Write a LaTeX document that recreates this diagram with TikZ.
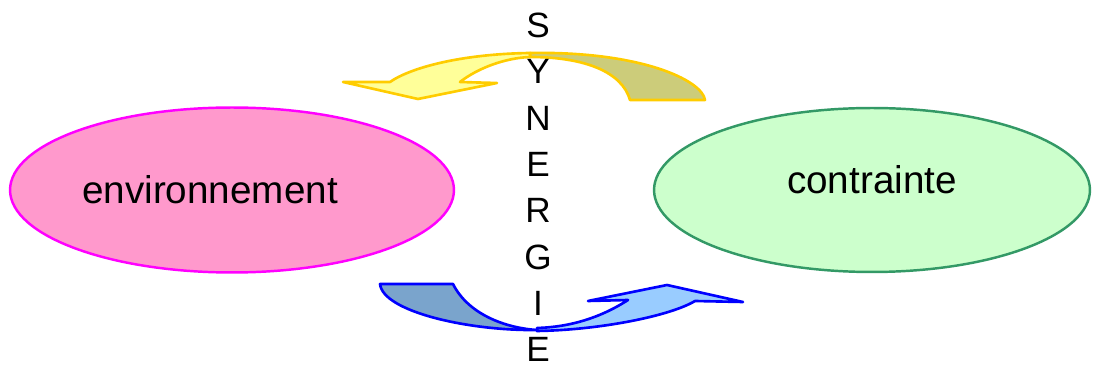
\documentclass[tikz,border=0pt]{standalone}
\usepackage{fontspec}
\setmainfont{Liberation Sans}
\usepackage{xcolor}
\usepackage{tikz}
\usetikzlibrary{shapes.geometric}

\definecolor{pinkfill}{HTML}{FF99CC}
\definecolor{pinkline}{HTML}{FF00FF}
\definecolor{greenfill}{HTML}{CCFFCC}
\definecolor{greenline}{HTML}{339966}
\definecolor{yellowlight}{HTML}{FFFF99}
\definecolor{yellowdark}{HTML}{CCCC7A}
\definecolor{yellowline}{HTML}{FFCC00}
\definecolor{bluedark}{HTML}{7AA4CC}
\definecolor{bluelight}{HTML}{99CCFF}
\definecolor{blueline}{HTML}{0000FF}

\begin{document}
\begin{tikzpicture}[x=0.02cm,y=-0.02cm,every node/.style={font=\fontsize{22}{26}\selectfont}]
  \useasboundingbox (0,0) rectangle (1095,367);
  % ellipses
  \node[ellipse,draw=pinkline,line width=1.4pt,fill=pinkfill,
        inner sep=0pt,minimum width=8.88cm,minimum height=3.3cm] (env) at (232,190) {};
  \node (envtext) at (210,190) {environnement};
  \node[ellipse,draw=greenline,line width=1.4pt,fill=greenfill,
        inner sep=0pt,minimum width=8.72cm,minimum height=3.28cm] (con) at (872,190) {};
  \node (context) at (872,180) {contrainte};
  % top arrow (yellow)
  \draw[yellowline,line width=1.5pt,fill=yellowdark,line join=round]
    (530,53) .. controls (640,51) and (702,80) .. (705,100) -- (630,100)
    .. controls (622,72) and (585,57) .. (530,57) -- cycle;
  \draw[yellowline,line width=1.5pt,fill=yellowlight,line join=round]
    (530,53) .. controls (460,54) and (410,68) .. (390,82) -- (343,82) -- (418,99)
    -- (497,83) -- (460,82) .. controls (478,68) and (505,58) .. (530,57) -- cycle;
  % bottom arrow (blue)
  \draw[blueline,line width=1.5pt,fill=bluedark,line join=round]
    (380,284) -- (453,284) .. controls (468,314) and (505,328) .. (537,330)
    .. controls (470,331) and (383,312) .. (380,284) -- cycle;
  \draw[blueline,line width=1.5pt,fill=bluelight,line join=round]
    (537,331) .. controls (600,330) and (670,316) .. (695,301) -- (743,302)
    -- (667,285) -- (588,301) -- (628,300) .. controls (600,318) and (570,327) .. (537,328) -- cycle;
  % synergie
  \foreach \l [count=\i] in {S,Y,N,E,R,G,I,E}
    \node[font=\fontsize{20}{24}\selectfont,inner sep=1pt,text depth=0pt,anchor=base]
      (s\i) at (538,{37.6+46.3*(\i-1)}) {\l};
\end{tikzpicture}
\end{document}
